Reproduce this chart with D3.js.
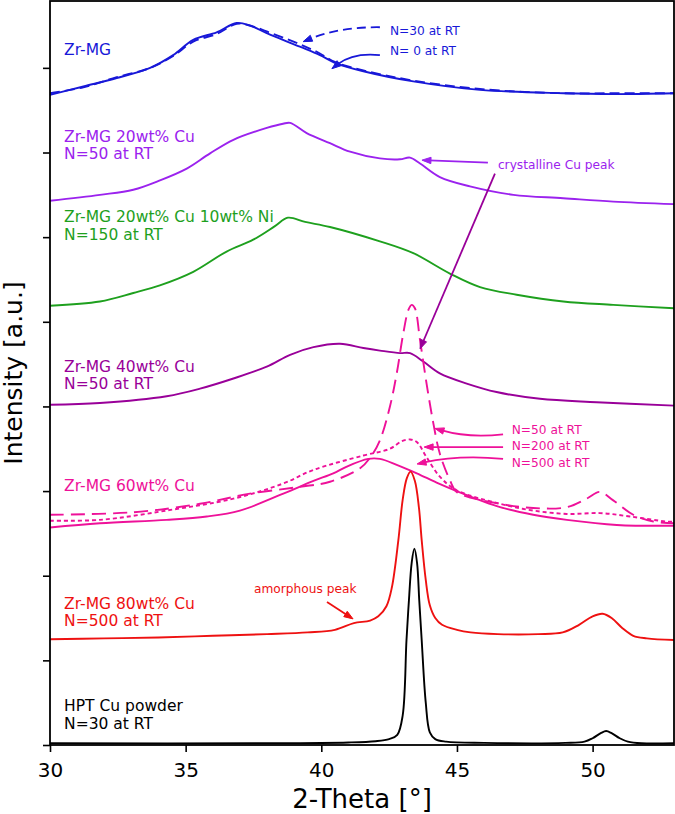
<!DOCTYPE html>
<html>
<head>
<meta charset="utf-8">
<script src="https://cdn.jsdelivr.net/npm/d3@7"></script>
<style>
body { margin: 0; background: #fff; }
svg text { font-family: "DejaVu Sans", sans-serif; }
</style>
</head>
<body>
<svg id="chart" width="675" height="814"></svg>
<script>
// tick values
var xTicks = [30, 35, 40, 45, 50];
var yTicks = [0, 1, 2, 3, 4, 5, 6, 7, 8];

// diffractograms, [2-theta, intensity (offset)]
var zrMgN0 = [[30,7.68],[31.23,7.78],[32.46,7.88],[33.69,8.0],[34.54,8.15],[35.28,8.33],[36.14,8.42],[36.88,8.53],[37.37,8.5],[37.99,8.41],[39.21,8.25],[39.95,8.15],[40.5,8.06],[41.55,7.96],[43.39,7.84],[45.85,7.74],[48.92,7.7],[50.76,7.69],[53,7.7]];
var zrMgN30 = [[30,7.7],[31.23,7.77],[32.46,7.89],[33.69,8.0],[34.54,8.14],[35.28,8.31],[36.14,8.4],[36.88,8.52],[37.37,8.5],[37.99,8.43],[39.21,8.28],[39.95,8.17],[40.5,8.07],[41.55,7.97],[43.39,7.85],[45.85,7.75],[48.92,7.7],[50.76,7.7],[53,7.7]];
var cu20 = [[30,6.43],[31.84,6.5],[33.07,6.56],[34.05,6.67],[35.04,6.81],[35.9,6.99],[36.76,7.15],[37.99,7.29],[38.59,7.34],[38.85,7.35],[39.46,7.23],[40.32,7.11],[41.06,7.01],[42.16,6.93],[42.9,6.92],[43.27,6.94],[43.64,6.87],[44.37,6.71],[45.48,6.6],[47.08,6.5],[48.92,6.46],[50.76,6.42],[53,6.39]];
var cu20ni10 = [[30,5.19],[31.84,5.24],[33.07,5.34],[34.05,5.43],[35.28,5.59],[36.51,5.83],[37.49,5.97],[38.29,6.13],[38.77,6.23],[39.4,6.18],[40.32,6.12],[42.16,5.95],[43.39,5.81],[44.74,5.57],[45.85,5.41],[47.2,5.32],[48.92,5.24],[50.76,5.2],[53,5.16]];
var cu40 = [[30,4.02],[31.84,4.04],[34.3,4.12],[35.53,4.21],[36.76,4.33],[37.99,4.47],[38.85,4.61],[39.71,4.7],[40.69,4.74],[41.55,4.69],[42.16,4.66],[42.9,4.63],[43.27,4.63],[43.76,4.53],[44.37,4.39],[45.36,4.27],[46.46,4.17],[48.06,4.09],[50.15,4.05],[53,4.01]];
var cu60N50 = [[30,2.72],[33.07,2.75],[35.53,2.85],[37.37,2.97],[39.21,3.05],[40.32,3.11],[41.43,3.27],[41.79,3.39],[42.16,3.6],[42.53,4.0],[42.78,4.39],[43.02,4.86],[43.21,5.14],[43.33,5.2],[43.45,5.16],[43.64,4.78],[43.88,4.27],[44.13,3.8],[44.37,3.44],[44.74,3.13],[44.99,2.99],[46.59,2.85],[47.81,2.8],[49.05,2.81],[49.78,2.91],[50.27,2.99],[50.76,2.89],[51.5,2.72],[52.24,2.64],[53,2.62]];
var cu60N200 = [[30,2.65],[31.84,2.66],[34.3,2.77],[36.76,2.91],[38.6,3.09],[39.71,3.25],[41.55,3.42],[42.53,3.5],[42.97,3.59],[43.27,3.61],[43.52,3.58],[43.88,3.4],[44.37,3.17],[44.99,3.01],[46.59,2.85],[47.81,2.77],[49.05,2.73],[50.27,2.74],[51.38,2.7],[52.73,2.64],[53,2.64]];
var cu60N500 = [[30,2.57],[31.84,2.62],[34.3,2.66],[35.78,2.7],[37.0,2.77],[38.6,2.97],[39.71,3.12],[40.44,3.21],[40.94,3.29],[41.73,3.38],[42.16,3.38],[42.78,3.31],[43.52,3.21],[44.25,3.1],[44.99,3.0],[46.59,2.81],[47.81,2.72],[49.05,2.66],[50.89,2.6],[53,2.59]];
var cu80 = [[30,1.25],[32,1.26],[34,1.27],[36,1.29],[38,1.31],[39.5,1.33],[40.5,1.36],[41.2,1.44],[41.8,1.47],[42.1,1.52],[42.4,1.64],[42.6,1.86],[42.84,2.42],[43.0,2.9],[43.15,3.15],[43.29,3.23],[43.45,3.12],[43.6,2.8],[43.7,2.42],[43.85,1.95],[44.0,1.65],[44.2,1.5],[44.45,1.42],[45,1.36],[45.5,1.33],[46.5,1.31],[48,1.31],[48.9,1.33],[49.5,1.42],[50.0,1.52],[50.37,1.55],[50.7,1.5],[51.1,1.38],[51.5,1.29],[52,1.26],[53,1.24]];
var cuPowder = [[30,0.02],[38,0.02],[41,0.03],[42,0.045],[42.5,0.07],[42.8,0.12],[43.0,0.35],[43.14,1.24],[43.23,1.71],[43.33,2.15],[43.43,2.32],[43.53,2.15],[43.61,1.71],[43.7,1.24],[43.85,0.5],[44.0,0.15],[44.2,0.07],[44.6,0.04],[46,0.025],[49,0.025],[49.7,0.04],[50.0,0.08],[50.3,0.14],[50.5,0.165],[50.7,0.14],[51.0,0.08],[51.3,0.04],[51.8,0.02],[53,0.02]];

// sample labels: text lines, anchor [2-theta, intensity of first baseline]
var labelTexts = [["Zr-MG"], ["Zr-MG 20wt% Cu", "N=50 at RT"], ["Zr-MG 20wt% Cu 10wt% Ni", "N=150 at RT"], ["Zr-MG 40wt% Cu", "N=50 at RT"], ["Zr-MG 60wt% Cu"], ["Zr-MG 80wt% Cu", "N=500 at RT"], ["HPT Cu powder", "N=30 at RT"]];
var labelPos = [[30.52, 8.15], [30.52, 7.13], [30.52, 6.18], [30.52, 4.41], [30.52, 3.0], [30.52, 1.61], [30.52, 0.4]];

// annotations: text, text anchor, arrow start, arrow end, curvature
var noteTexts = ["N=30 at RT", "N= 0 at RT", "crystalline Cu peak", "", "N=50 at RT", "N=200 at RT", "N=500 at RT", "amorphous peak"];
var noteTextPos = [[42.53, 8.39], [42.53, 8.15], [46.51, 6.8], null, [47.02, 3.68], [47.02, 3.48], [47.02, 3.29], [37.52, 1.79]];
var arrowFrom = [[42.16, 8.48], [42.16, 8.15], [46.14, 6.88], [46.4, 6.75], [46.7, 3.67], [46.7, 3.52], [46.7, 3.38], [40.21, 1.69]];
var arrowTo = [[39.33, 8.31], [40.39, 7.99], [43.71, 6.91], [43.64, 4.68], [44.19, 3.74], [43.79, 3.52], [43.53, 3.32], [41.17, 1.49]];
var arrowRad = [-0.1, -0.2, 0, 0, 0.1, 0, -0.08, 0];

var blue = "#1818d8", violet = "#9b22ee", green = "#1ea01e", purple = "#990099", pink = "#ee1199", red = "#ee1111";

var series = [
    {data: zrMgN30, color: blue, dash: "10,5"},
    {data: zrMgN0, color: blue, dash: null},
    {data: cu20, color: violet, dash: null},
    {data: cu20ni10, color: green, dash: null},
    {data: cu40, color: purple, dash: null},
    {data: cu60N50, color: pink, dash: "14,7"},
    {data: cu60N200, color: pink, dash: "4,3"},
    {data: cu60N500, color: pink, dash: null},
    {data: cu80, color: red, dash: null},
    {data: cuPowder, color: "#000", dash: null}
];
var labelColors = [blue, violet, green, purple, pink, red, "#000"];
var noteColors = [blue, blue, violet, purple, pink, pink, pink, red];
var noteDash = ["9,5", null, null, null, null, null, null, null];

var plotLeft = 50, plotRight = 674, plotTop = 1, plotBottom = 745;

var svg = d3.select("#chart");
var x = d3.scaleLinear().domain([30, 53]).range([plotLeft, plotRight]);
var y = d3.scaleLinear().domain([0, 8.79]).range([plotBottom, plotTop]);

// curves
var line = d3.line()
    .x(function(d) { return x(d[0]); })
    .y(function(d) { return y(d[1]); })
    .curve(d3.curveCatmullRom);

var plot = svg.append("g");
series.forEach(function(s) {
    plot.append("path")
        .attr("d", line(s.data))
        .attr("fill", "none")
        .attr("stroke", s.color)
        .attr("stroke-width", 1.9)
        .attr("stroke-dasharray", s.dash)
        .attr("stroke-linejoin", "round");
});

// sample labels
labelTexts.forEach(function(lines, i) {
    lines.forEach(function(t, j) {
        svg.append("text")
            .attr("x", x(labelPos[i][0]))
            .attr("y", y(labelPos[i][1]) + j * 17.6)
            .attr("fill", labelColors[i])
            .style("font-size", "15.5px")
            .text(t);
    });
});

// annotations with arrows
function arrow(p0, p1, rad, color, dash) {
    var mx = (p0[0] + p1[0]) / 2, my = (p0[1] + p1[1]) / 2;
    var dx = p1[0] - p0[0], dy = p1[1] - p0[1];
    var cx = mx + rad * dy, cy = my - rad * dx;
    // stop the shaft a bit before the tip
    var tx = p1[0] - cx, ty = p1[1] - cy;
    var len = Math.sqrt(tx * tx + ty * ty);
    var ux = tx / len, uy = ty / len;
    var hl = 9, hw = 3.2;
    var ex = p1[0] - ux * hl * 0.8, ey = p1[1] - uy * hl * 0.8;
    svg.append("path")
        .attr("d", "M" + p0[0] + "," + p0[1] + "Q" + cx + "," + cy + " " + ex + "," + ey)
        .attr("fill", "none")
        .attr("stroke", color)
        .attr("stroke-width", 1.8)
        .attr("stroke-dasharray", dash);
    var bx = p1[0] - ux * hl, by = p1[1] - uy * hl;
    svg.append("path")
        .attr("d", "M" + p1[0] + "," + p1[1] +
            "L" + (bx - uy * hw) + "," + (by + ux * hw) +
            "L" + (bx + uy * hw) + "," + (by - ux * hw) + "Z")
        .attr("fill", color)
        .attr("stroke", color)
        .attr("stroke-width", 1);
}

noteTexts.forEach(function(t, i) {
    arrow([x(arrowFrom[i][0]), y(arrowFrom[i][1])], [x(arrowTo[i][0]), y(arrowTo[i][1])], arrowRad[i], noteColors[i], noteDash[i]);
    if (noteTextPos[i]) {
        svg.append("text")
            .attr("x", x(noteTextPos[i][0]))
            .attr("y", y(noteTextPos[i][1]))
            .attr("fill", noteColors[i] == purple ? violet : noteColors[i])
            .style("font-size", "12.2px")
            .text(t);
    }
});

// axes
var xAxis = d3.axisBottom(x).tickValues(xTicks).tickSize(7).tickPadding(11).tickSizeOuter(0);
var yAxis = d3.axisLeft(y).tickValues(yTicks).tickFormat("").tickSize(7).tickSizeOuter(0);

var gx = svg.append("g").attr("transform", "translate(0," + plotBottom + ")").call(xAxis);
var gy = svg.append("g").attr("transform", "translate(" + plotLeft + ",0)").call(yAxis);
gx.attr("font-size", null).attr("font-family", null);
gx.selectAll("text").style("font-size", "20px").attr("fill", "#000");
[gx, gy].forEach(function(g) {
    g.select(".domain").remove();
    g.selectAll(".tick line").attr("stroke", "#000").attr("stroke-width", 1.6);
});

// frame
svg.append("rect")
    .attr("x", plotLeft).attr("y", plotTop)
    .attr("width", plotRight - plotLeft).attr("height", plotBottom - plotTop)
    .attr("fill", "none").attr("stroke", "#000").attr("stroke-width", 1.8);

// axis titles
svg.append("text")
    .attr("x", (plotLeft + plotRight) / 2).attr("y", 808)
    .attr("text-anchor", "middle")
    .style("font-size", "26px")
    .text("2-Theta [°]");
svg.append("text")
    .attr("transform", "translate(22," + (plotTop + plotBottom) / 2 + ") rotate(-90)")
    .attr("text-anchor", "middle")
    .style("font-size", "25px")
    .text("Intensity [a.u.]");
</script>
</body>
</html>
